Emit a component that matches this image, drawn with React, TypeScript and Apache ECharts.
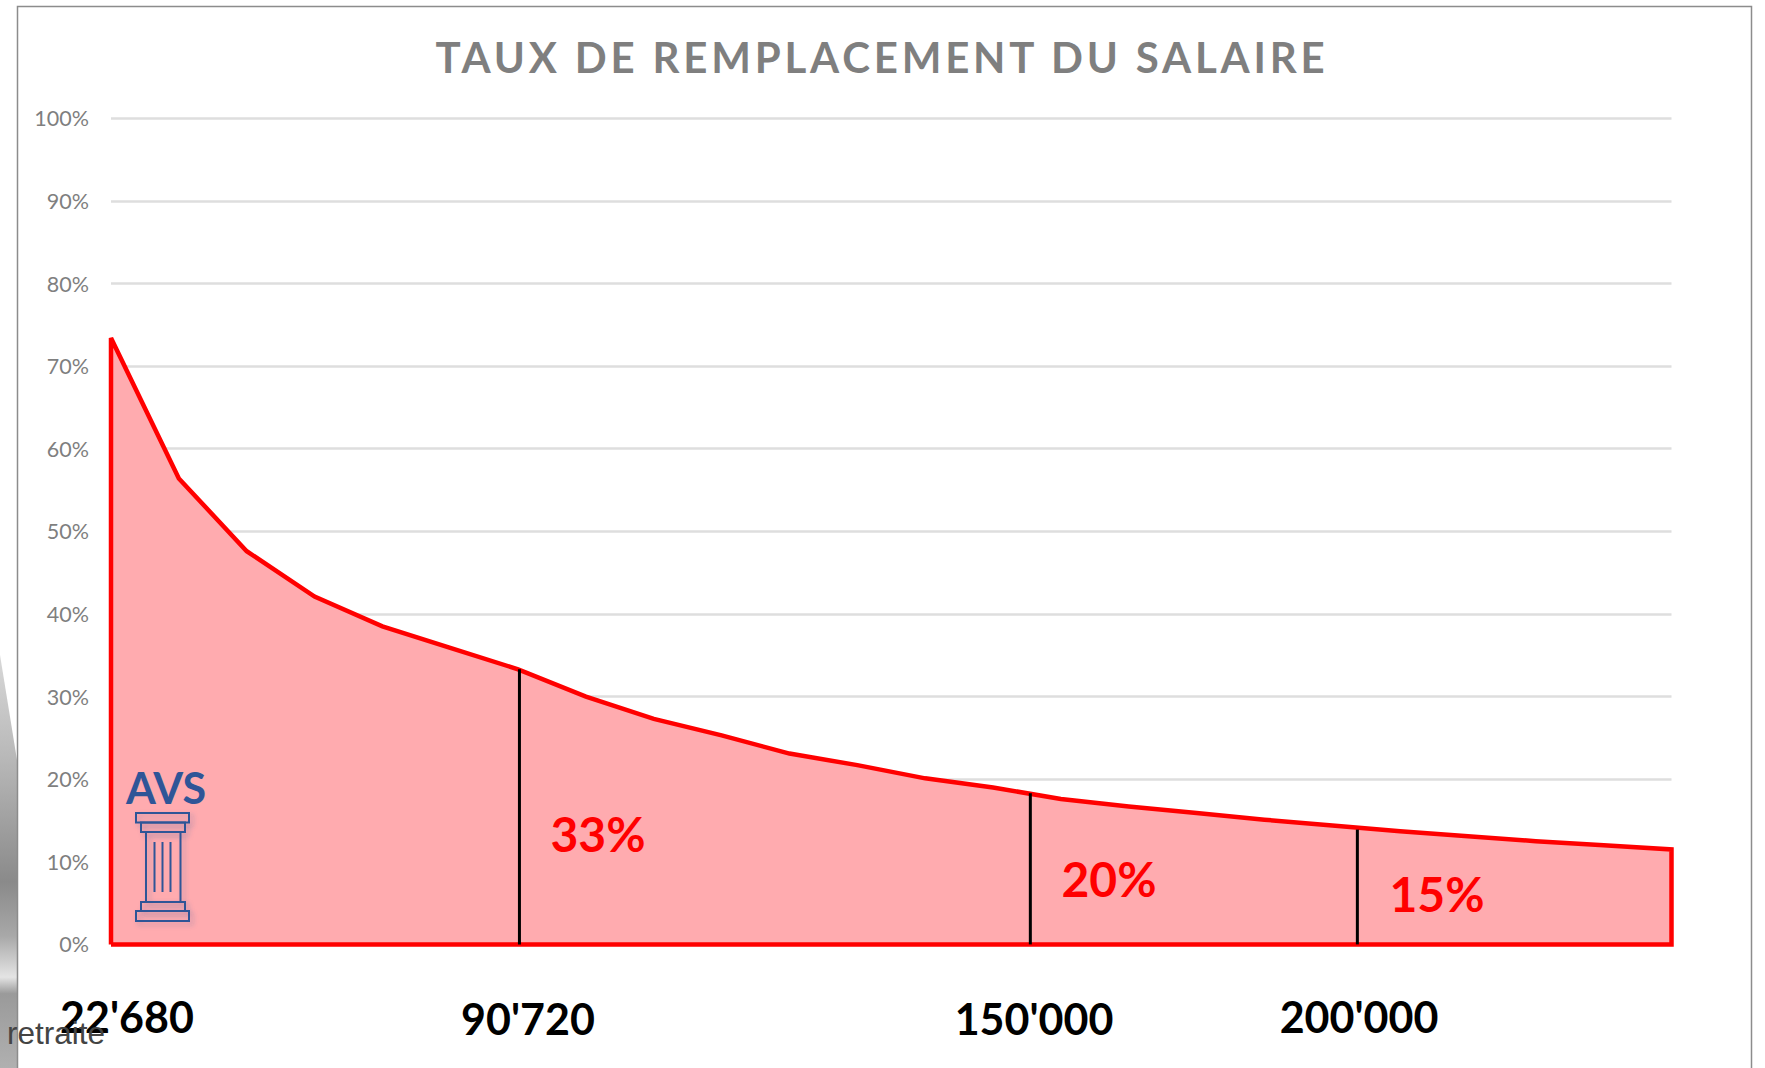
import React, { useEffect, useRef } from "react";
import * as echarts from "echarts";

const rates = [73.4, 56.4, 47.6, 42.1, 38.5, 35.9, 33.3, 30, 27.3, 25.3, 23.1, 21.7, 20.1, 19.0, 17.6, 16.7, 15.9, 15.1, 14.4, 13.7, 13.1, 12.5, 12.0, 11.5];
const dividerIndexes = [6.02, 13.55, 18.37];
const dividerTops = [33.3, 18.3, 13.9];
const salaryLabels = ["22'680", "90'720", "150'000", "200'000"];
const shareLabels = ["33%", "20%", "15%"];
const titleText = "TAUX DE REMPLACEMENT DU SALAIRE";

const BLUE = "#2F5597";
const RED = "#FF0000";
const FONT = "Lato";

const pts = rates.map((v, i) => [i, v]);
const outline = [[0, 0], ...pts, [rates.length - 1, 0], [0, 0]];

const salaryPos = [[127, 1016], [528, 1018], [1034, 1018], [1359, 1016]];
const sharePos = [[598, 833], [1109, 878], [1437, 893]];

const txt = (text: string, x: number, y: number, size: number, fill: string, weight = "bold", family = FONT, z = 50) => ({
  type: "text", x, y, z,
  style: { text, fontFamily: family, fontSize: size, fontWeight: weight, fill, align: "center", verticalAlign: "middle" },
});

const pillarShadow = { shadowBlur: 5, shadowColor: "rgba(47,85,151,0.28)", shadowOffsetX: 3, shadowOffsetY: 3 };
const box = (x: number, y: number, w: number, h: number) => ({
  type: "rect", z: 40, shape: { x, y, width: w, height: h },
  style: { fill: "rgba(0,0,0,0)", stroke: BLUE, lineWidth: 2, ...pillarShadow },
});
const flute = (x: number) => ({
  type: "line", z: 40, shape: { x1: x, y1: 842, x2: x, y2: 892 },
  style: { stroke: BLUE, lineWidth: 2 },
});

export default function App() {
  const ref = useRef<HTMLDivElement>(null);
  useEffect(() => {
    document.body.style.margin = "0";
    const chart = echarts.init(ref.current!, undefined, { renderer: "svg" });
    chart.setOption({
      animation: false,
      backgroundColor: "#ffffff",
      grid: { left: 111, right: 93.5, top: 118.3, bottom: 123.6, containLabel: false },
      xAxis: { type: "value", min: 0, max: rates.length - 1, show: false, splitLine: { show: false } },
      yAxis: {
        type: "value", min: 0, max: 100, interval: 10,
        axisLine: { show: false }, axisTick: { show: false },
        axisLabel: { formatter: "{value}%", color: "#7F7F7F", fontFamily: FONT, fontSize: 21.5, margin: 22, padding: [0, 0, 2, 0] },
        splitLine: { lineStyle: { color: "#DEDEDE", width: 2.5 } },
      },
      series: [
        {
          type: "line", data: outline, symbol: "none", clip: false, z: 3,
          lineStyle: { color: RED, width: 4.5, join: "miter" },
          areaStyle: { color: "#FFABAF", opacity: 1, origin: "start" },
        },
        ...dividerIndexes.map((x, i) => ({
          type: "line", data: [[x, dividerTops[i]], [x, 0]], symbol: "none", z: 4,
          lineStyle: { color: "#000000", width: 3 },
        })),
      ],
      graphic: [
        {
          type: "polygon", z: -5,
          shape: { points: [[0, 655], [17, 760], [17, 1068], [0, 1068]] },
          style: {
            fill: {
              type: "linear", x: 0, y: 0, x2: 0, y2: 1,
              colorStops: [
                { offset: 0, color: "#D8D8D8" },
                { offset: 0.25, color: "#B8B8B8" },
                { offset: 0.55, color: "#8A8A8A" },
                { offset: 0.68, color: "#A8A8A8" },
                { offset: 0.78, color: "#E4E4E4" },
                { offset: 0.82, color: "#9A9A9A" },
                { offset: 1, color: "#B0B0B0" },
              ],
            },
          },
        },
        {
          type: "rect", z: -4,
          shape: { x: 17.5, y: 6.5, width: 1734, height: 1100 },
          style: { fill: "rgba(255,255,255,0)", stroke: "#8C8C8C", lineWidth: 1.5 },
        },
        txt(titleText, 882, 57, 42, "#7F7F7F"),
        ...salaryLabels.map((s, i) => txt(s, salaryPos[i][0], salaryPos[i][1], 43, "#000000")),
        ...shareLabels.map((s, i) => txt(s, sharePos[i][0], sharePos[i][1], 48, RED)),
        txt("AVS", 166, 787, 43, BLUE),
        box(136, 813, 53, 9.5),
        box(141, 822.5, 44, 9.5),
        box(146, 832, 34.5, 70),
        box(141, 902, 44, 9),
        box(136, 911, 53, 10),
        flute(154.5),
        flute(162.5),
        flute(170.5),
        {
          type: "text", x: 7, y: 1033, z: 60,
          style: { text: "retraite", fontFamily: "Liberation Sans", fontSize: 31.5, fill: "#444444", align: "left", verticalAlign: "middle" },
        },
      ],
    });
    ref.current!.querySelectorAll("text").forEach((t) => {
      if (t.textContent === titleText) t.setAttribute("letter-spacing", "3.8");
    });
    return () => chart.dispose();
  }, []);
  return <div ref={ref} style={{ position: "absolute", left: 0, top: 0, width: 1765, height: 1068 }} />;
}
